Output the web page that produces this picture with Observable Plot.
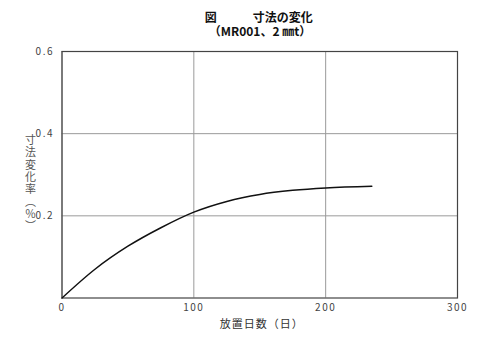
<!DOCTYPE html>
<html>
<head>
<meta charset="utf-8">
<script src="https://cdn.jsdelivr.net/npm/d3@7"></script>
<script src="https://cdn.jsdelivr.net/npm/@observablehq/plot@0.6"></script>
<style>
  body { margin: 0; background: #fff; }
  #wrap { position: relative; width: 500px; height: 349px; font-family: "Noto Sans CJK JP", sans-serif; }
  #title { position: absolute; top: 10px; left: 0; width: 520px; text-align: center; font-size: 12px; font-weight: bold; line-height: 14px; color: #111; white-space: pre; }
  #chart { position: absolute; top: 40px; left: 0; }
</style>
</head>
<body>
<div id="wrap">
  <div id="title">図　　　寸法の変化 
（MR001、2 ㎜t）</div>
  <div id="chart"></div>
</div>
<script>
const days =   [0, 25, 50, 75, 100, 125, 150, 175, 200, 235];
const change = [0, 0.070, 0.126, 0.171, 0.209, 0.235, 0.252, 0.262, 0.268, 0.272];
const xTicks = [0, 100, 200, 300];
const yTicks = [0.2, 0.4, 0.6];
const xLabel = "放置日数（日）";
const yLabel = "寸法変化率（％）";

const data = days.map((d, i) => ({day: d, value: change[i]}));

const chart = Plot.plot({
  width: 500,
  height: 309,
  marginLeft: 61.5,
  marginRight: 43,
  marginTop: 11,
  marginBottom: 51.5,
  style: {fontFamily: "'Noto Sans CJK JP', sans-serif", background: "#fff"},
  x: {domain: [0, 300], label: null},
  y: {domain: [0, 0.6], label: null},
  marks: [
    Plot.gridX(xTicks, {stroke: "#9a9a9a", strokeOpacity: 1, strokeWidth: 1}),
    Plot.gridY(yTicks, {stroke: "#9a9a9a", strokeOpacity: 1, strokeWidth: 1}),
    Plot.frame({stroke: "#444", strokeWidth: 1.2}),
    Plot.axisX(xTicks, {tickSize: 0, tickPadding: 6, fill: "#444", fontSize: 10, label: null}),
    Plot.axisY(yTicks, {tickSize: 0, tickPadding: 8, fill: "#444", fontSize: 10, label: null, tickFormat: d3.format(".1f")}),
    Plot.line(data, {x: "day", y: "value", curve: "monotone-x", stroke: "#111", strokeWidth: 1.5}),
    Plot.text([xLabel], {frameAnchor: "bottom", dx: 2, dy: 30, text: d => d, fontSize: 11, fill: "#333"}),
    Plot.text([yLabel], {frameAnchor: "left", textAnchor: "middle", lineAnchor: "top", dx: -31.5, dy: 1, text: d => d, fontSize: 11, fill: "#555"})
  ]
});
const svg = d3.select(chart);
svg.selectAll("text").each(function() {
  const t = d3.select(this);
  const s = t.text();
  if (s === yLabel) {
    t.attr("writing-mode", "vertical-rl").style("writing-mode", "vertical-rl")
     .style("letter-spacing", "1.3px").attr("dy", null);
  } else if (s === xLabel) {
    t.style("letter-spacing", "1px");
  } else if (/^[0-9.]+$/.test(s)) {
    t.style("letter-spacing", "1.5px");
  }
});
document.getElementById("chart").appendChild(chart);
</script>
</body>
</html>
